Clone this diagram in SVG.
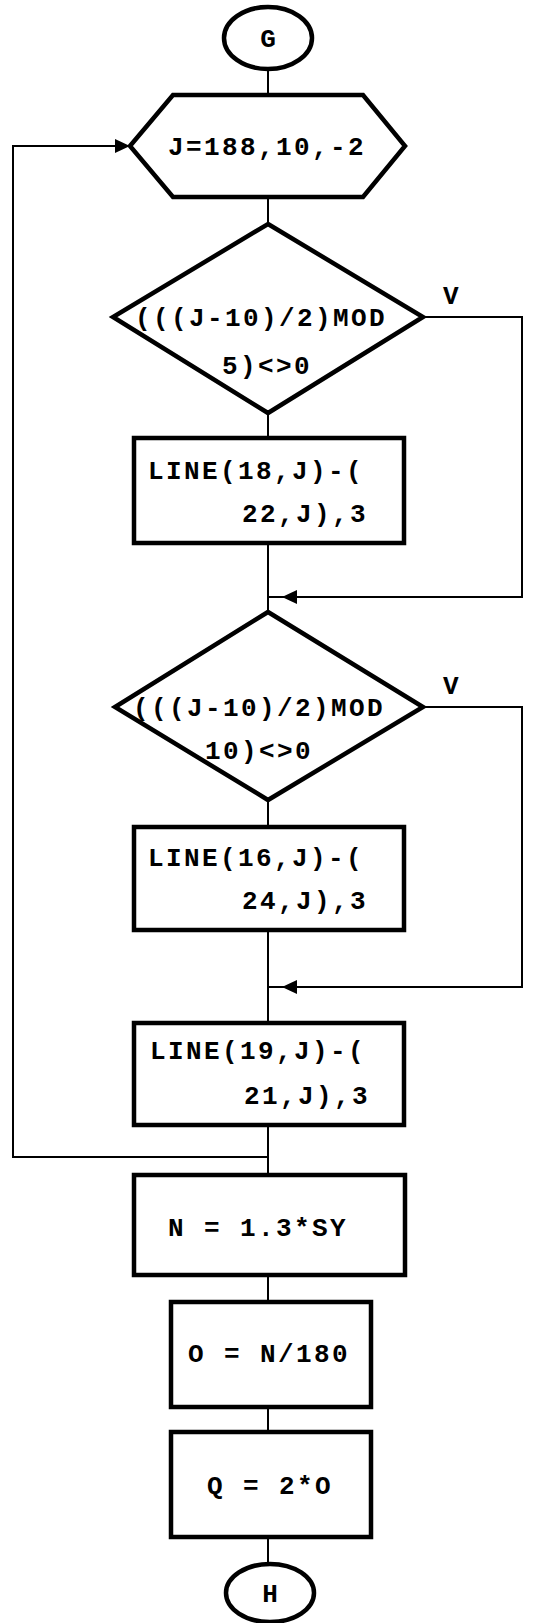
<svg xmlns="http://www.w3.org/2000/svg" xmlns:xlink="http://www.w3.org/1999/xlink" width="552" height="1623" viewBox="0 0 552 1623">
<style>
.node{fill:#fff;stroke:#000;stroke-width:4.5;stroke-linejoin:miter}
.conn{fill:none;stroke:#000;stroke-width:2}
.t{font-family:"Liberation Mono","DejaVu Sans Mono",monospace;font-weight:bold;font-size:26px;letter-spacing:2.4px;fill:#000}
.c{text-anchor:middle;letter-spacing:0}
</style>
<defs>
<path id="ahL" d="M0 0 L15 -7 L15 7 Z" fill="#000"/>
<path id="ahR" d="M0 0 L-15 -7 L-15 7 Z" fill="#000"/>
</defs>
<rect width="552" height="1623" fill="#fff"/>
<g id="connectors">
<path class="conn" d="M268 70 V95"/>
<path class="conn" d="M268 197 V224"/>
<path class="conn" d="M268 413 V438"/>
<path class="conn" d="M268 543 V612"/>
<path class="conn" d="M268 800 V827"/>
<path class="conn" d="M268 930 V1023"/>
<path class="conn" d="M268 1125 V1175"/>
<path class="conn" d="M268 1275 V1302"/>
<path class="conn" d="M268 1407 V1432"/>
<path class="conn" d="M268 1537 V1563"/>
<path class="conn" d="M268 1157 H13 V146 H120"/>
<use xlink:href="#ahR" x="130" y="146"/>
<path class="conn" d="M423 317 H522 V597 H268"/>
<use xlink:href="#ahL" x="282" y="597"/>
<path class="conn" d="M423 707 H522 V987 H268"/>
<use xlink:href="#ahL" x="282" y="987"/>
<text class="t" x="443" y="304">V</text>
<text class="t" x="443" y="694">V</text>
</g>
<g id="start">
<ellipse class="node" cx="268" cy="38" rx="44" ry="31"/>
<text class="t c" x="268" y="47">G</text>
</g>
<g id="loop">
<polygon class="node" points="130,146 173,95 363,95 405,146 363,197 173,197"/>
<text class="t" x="168" y="155">J=188,10,-2</text>
</g>
<g id="cond1">
<polygon class="node" points="268,224 423,317 268,413 113,317"/>
<text class="t" x="135" y="326">(((J-10)/2)MOD</text>
<text class="t" x="222" y="374">5)&lt;&gt;0</text>
</g>
<g id="line1">
<rect class="node" x="134" y="438" width="270" height="105"/>
<text class="t" x="148" y="479">LINE(18,J)-(</text>
<text class="t" x="242" y="522">22,J),3</text>
</g>
<g id="cond2">
<polygon class="node" points="268,612 423,707 268,800 115,707"/>
<text class="t" x="133" y="716">(((J-10)/2)MOD</text>
<text class="t" x="205" y="759">10)&lt;&gt;0</text>
</g>
<g id="line2">
<rect class="node" x="134" y="827" width="270" height="103"/>
<text class="t" x="148" y="866">LINE(16,J)-(</text>
<text class="t" x="242" y="909">24,J),3</text>
</g>
<g id="line3">
<rect class="node" x="134" y="1023" width="270" height="102"/>
<text class="t" x="150" y="1059">LINE(19,J)-(</text>
<text class="t" x="244" y="1104">21,J),3</text>
</g>
<g id="calcN">
<rect class="node" x="134" y="1175" width="271" height="100"/>
<text class="t" x="168" y="1236">N = 1.3*SY</text>
</g>
<g id="calcO">
<rect class="node" x="171" y="1302" width="200" height="105"/>
<text class="t" x="188" y="1362">O = N/180</text>
</g>
<g id="calcQ">
<rect class="node" x="171" y="1432" width="200" height="105"/>
<text class="t" x="207" y="1494">Q = 2*O</text>
</g>
<g id="end">
<ellipse class="node" cx="270" cy="1593" rx="44" ry="29"/>
<text class="t c" x="270" y="1602">H</text>
</g>
</svg>
